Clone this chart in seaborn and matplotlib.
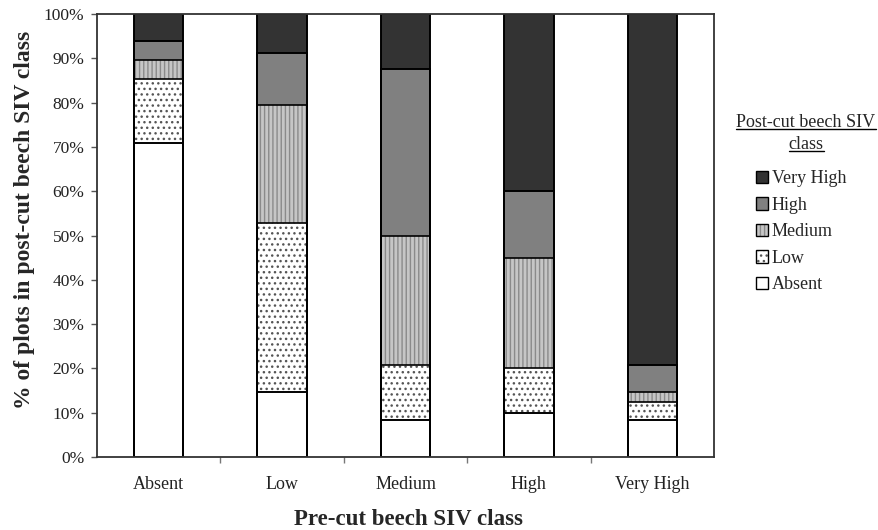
import matplotlib
matplotlib.use("Agg")
import matplotlib.pyplot as plt
import seaborn as sns
import pandas as pd
from matplotlib.patches import Patch
from matplotlib.lines import Line2D
from matplotlib.ticker import FixedLocator, PercentFormatter

# pre-cut classes (x axis) and post-cut classes (stack segments)
pre_cut = ["Absent", "Low", "Medium", "High", "Very High"]
post_cut = ["Absent", "Low", "Medium", "High", "Very High"]

# % of plots in each post-cut class, per pre-cut class
pct_absent = [70.8, 14.7, 8.3, 10.0, 8.3]
pct_low = [14.6, 38.2, 12.5, 10.0, 4.2]
pct_medium = [4.2, 26.5, 29.2, 25.0, 2.1]
pct_high = [4.2, 11.8, 37.5, 15.0, 6.2]
pct_very_high = [6.2, 8.8, 12.5, 40.0, 79.2]

df = pd.DataFrame({
    "Absent": pct_absent,
    "Low": pct_low,
    "Medium": pct_medium,
    "High": pct_high,
    "Very High": pct_very_high,
}, index=pre_cut)
cum = df[post_cut].cumsum(axis=1)

# fill style per post-cut class: face, hatch, hatch colour
styles = {
    "Absent": ("white", None, "black"),
    "Low": ("white", "...", "#555555"),
    "Medium": ("#c6c6c6", "||||", "#8a8a8a"),
    "High": ("#808080", None, "black"),
    "Very High": ("#333333", None, "black"),
}

sns.set_theme(style="white")
plt.rcParams["font.family"] = ["Liberation Serif", "DejaVu Serif"]
plt.rcParams["hatch.linewidth"] = 1.0

fig = plt.figure(figsize=(8.79, 5.30), dpi=100)
ax = fig.add_axes([0.1104, 0.1377, 0.7019, 0.8359])

# draw cumulative bars from the top class down so lower ones cover upper
for cls in reversed(post_cut):
    face, hatch, hcol = styles[cls]
    n0 = len(ax.patches)
    sns.barplot(x=pre_cut, y=cum[cls].values, color=face, saturation=1,
                width=0.4, ax=ax)
    for p in ax.patches[n0:]:
        p.set_facecolor(face)
        if hatch:
            p.set_hatch(hatch)
            p.set_edgecolor(hcol)
            p.set_linewidth(0)
        else:
            p.set_edgecolor("black")
            p.set_linewidth(1.2)

# black outlines of each segment on top of the hatches
for cls in reversed(post_cut):
    n0 = len(ax.patches)
    sns.barplot(x=pre_cut, y=cum[cls].values, color="white", saturation=1,
                width=0.4, ax=ax)
    for p in ax.patches[n0:]:
        p.set_facecolor("none")
        p.set_edgecolor("black")
        p.set_linewidth(1.2)

ax.set_xlim(-0.5, 4.5)
ax.set_ylim(0, 100)
ax.set_yticks(range(0, 101, 10))
ax.yaxis.set_major_formatter(PercentFormatter(decimals=0))
ax.xaxis.set_minor_locator(FixedLocator([0.5, 1.5, 2.5, 3.5]))
ax.tick_params(axis="x", which="major", length=0, labelsize=13, pad=14, labelcolor="#222222")
ax.tick_params(axis="x", which="minor", length=4, width=1, color="#777777", direction="out", bottom=True)
ax.tick_params(axis="y", length=4, width=1, color="#555555", direction="out", left=True,
               labelsize=12.5, pad=5, labelcolor="#222222")
for s in ax.spines.values():
    s.set_visible(True)
    s.set_color("#333333")
    s.set_linewidth(1.3)

ax.set_xlabel("Pre-cut beech SIV class", fontsize=16.5, fontweight="bold", va="top")
ax.xaxis.set_label_coords(0.504, -0.117)
ax.set_ylabel("% of plots in post-cut beech SIV class", fontsize=17, fontweight="bold")
ax.yaxis.set_label_coords(-0.100, 0.535)

# legend
handles = []
for cls in reversed(post_cut):
    face, hatch, hcol = styles[cls]
    if hatch:
        h = (Patch(facecolor=face, edgecolor=hcol, hatch=hatch, linewidth=0),
             Patch(facecolor="none", edgecolor="black", linewidth=1.0))
    else:
        h = Patch(facecolor=face, edgecolor="black", linewidth=1.0)
    handles.append(h)
leg = fig.legend(handles, list(reversed(post_cut)), loc="upper left",
                 bbox_to_anchor=(0.860, 0.679), frameon=False, fontsize=13,
                 handlelength=0.67, handleheight=0.67, handletextpad=0.2,
                 labelspacing=0.53, borderaxespad=0, borderpad=0)

t1 = fig.text(0.917, 0.760, "Post-cut beech SIV", ha="center", va="baseline", fontsize=13)
t2 = fig.text(0.917, 0.719, "class", ha="center", va="baseline", fontsize=13)
fig.canvas.draw()
r = fig.canvas.get_renderer()
inv = fig.transFigure.inverted()
for t in (t1, t2):
    bb = t.get_window_extent(r)
    x0, y0 = inv.transform((bb.x0, bb.y0 + 2))
    x1, _ = inv.transform((bb.x1, bb.y0 + 2))
    fig.add_artist(Line2D([x0, x1], [y0, y0], color="black", linewidth=1.0,
                          transform=fig.transFigure))

fig.savefig("out.png", dpi=100)
